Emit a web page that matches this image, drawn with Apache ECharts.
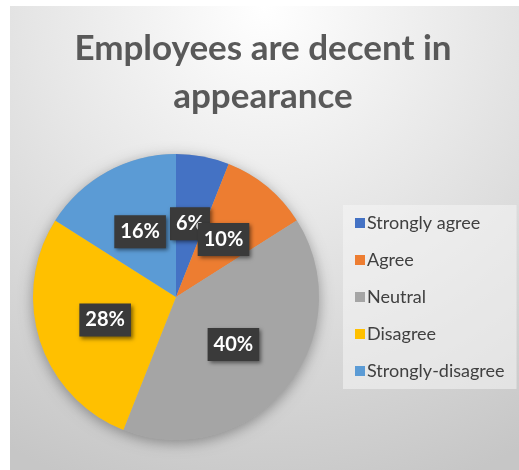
<!DOCTYPE html>
<html>
<head>
<meta charset="utf-8">
<script src="https://cdn.jsdelivr.net/npm/echarts@6/dist/echarts.min.js"></script>
<style>
  html, body { margin: 0; padding: 0; background: #ffffff; }
  #chart { width: 519px; height: 470px; }
</style>
</head>
<body>
<div id="chart"></div>
<script>
// Survey responses: "Employees are decent in appearance"
const categories = ['Strongly agree', 'Agree', 'Neutral', 'Disagree', 'Strongly-disagree'];
const shares = [6, 10, 40, 28, 16];
const colors = ['#4472C4', '#ED7D31', '#A5A5A5', '#FFC000', '#5B9BD5'];
const titleText = 'Employees are decent in\nappearance';

const FONT = 'Lato, "Open Sans", sans-serif';
const chart = echarts.init(document.getElementById('chart'), null, { renderer: 'canvas' });

const pieData = categories.map((name, i) => ({
  name: name,
  value: shares[i],
  itemStyle: { color: colors[i] }
}));

chart.setOption({
  animation: false,
  graphic: [
    {
      type: 'rect',
      z: -10,
      silent: true,
      shape: { x: 10, y: 6, width: 509, height: 464 },
      style: {
        fill: new echarts.graphic.RadialGradient(0.5, 0.0, 1.1, [
          { offset: 0, color: '#ffffff' },
          { offset: 0.45, color: '#e6e6e6' },
          { offset: 1, color: '#c6c6c6' }
        ])
      }
    },
    {
      type: 'text',
      z: 10,
      style: {
        x: 263, y: 73,
        text: titleText,
        fill: '#595959',
        font: 'bold 35px ' + FONT,
        align: 'center',
        verticalAlign: 'middle',
        lineHeight: 48
      }
    }
  ],
  legend: {
    orient: 'vertical',
    left: 343,
    top: 205,
    padding: [8, 12, 8, 12],
    backgroundColor: 'rgba(245,245,245,0.55)',
    itemWidth: 10,
    itemHeight: 10,
    itemGap: 17,
    icon: 'rect',
    data: categories,
    textStyle: { fontFamily: FONT, fontSize: 18, color: '#404040', lineHeight: 20, padding: [0, 0, 0, -3] }
  },
  series: [
    {
      // soft halo beneath the pie
      type: 'pie',
      silent: true,
      z: 1,
      center: [176, 297],
      radius: 143,
      startAngle: 90,
      label: { show: false },
      labelLine: { show: false },
      data: [{ value: 1, name: '', itemStyle: { color: '#b0b0b0', shadowBlur: 14, shadowColor: 'rgba(0,0,0,0.35)', shadowOffsetY: 3 } }],
      legendHoverLink: false
    },
    {
      type: 'pie',
      z: 2,
      center: [176, 297],
      radius: 143,
      startAngle: 90,
      clockwise: true,
      avoidLabelOverlap: false,
      labelLayout: { hideOverlap: false },
      itemStyle: { borderWidth: 0 },
      label: {
        show: true,
        position: 'inside',
        formatter: '{c}%',
        color: '#ffffff',
        fontFamily: FONT,
        fontWeight: 'bold',
        fontSize: 20,
        lineHeight: 22,
        backgroundColor: '#3a3a3a',
        padding: [6, 6, 5, 6],
        shadowBlur: 4,
        shadowColor: 'rgba(0,0,0,0.5)',
        shadowOffsetX: 2,
        shadowOffsetY: 2
      },
      labelLine: { show: false },
      data: pieData
    }
  ]
});
</script>
</body>
</html>
